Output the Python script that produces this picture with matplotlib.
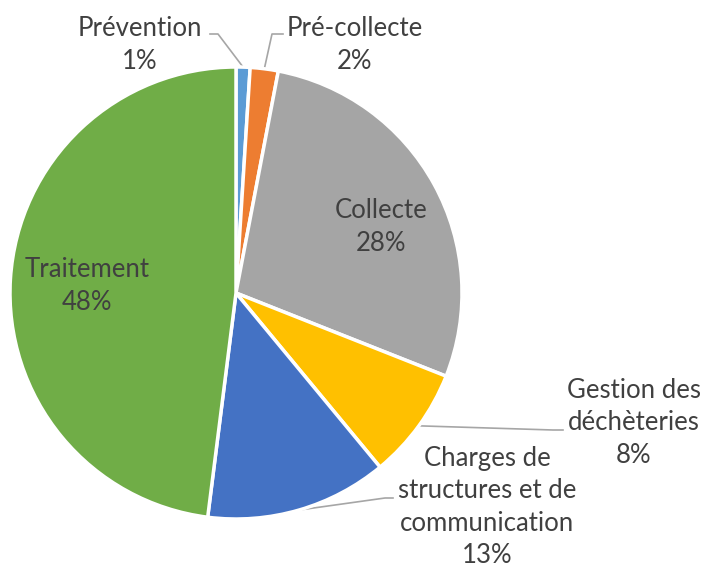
import numpy as np
import matplotlib
matplotlib.use("Agg")
import matplotlib.pyplot as plt

# données
categories = ["Prévention", "Pré-collecte", "Collecte", "Gestion des\ndéchèteries",
              "Charges de\nstructures et de\ncommunication", "Traitement"]
valeurs = [1, 2, 28, 8, 13, 48]
couleurs = ["#5B9BD5", "#ED7D31", "#A5A5A5", "#FFC000", "#4472C4", "#70AD47"]

W, H = 703, 568
CX, CY, R = 236, 293, 226


def px(x, y):
    # pixel -> coordonnées du repère du camembert
    return (x - CX) / R, (CY - y) / R


plt.rcParams['font.family'] = ['Lato', 'DejaVu Sans']

fig = plt.figure(figsize=(W / 100, H / 100), dpi=100)
ax = fig.add_axes([0, 0, 1, 1])

wedges, _ = ax.pie(valeurs, colors=couleurs, startangle=90, counterclock=False,
                   radius=1, center=(0, 0),
                   wedgeprops=dict(edgecolor='white', linewidth=2.5))

# pie() impose ses propres limites : on les remet après
ax.set_xlim(px(0, 0)[0], px(W, 0)[0])
ax.set_ylim(px(0, H)[1], px(0, 0)[1])
ax.set_aspect('equal')
ax.axis('off')

total = sum(valeurs)
pcts = [f"{round(v / total * 100)}%" for v in valeurs]

# positions des étiquettes (pixels) et coudes des traits de rappel
pos_labels = [(140, 45), (355, 45), (381, 227), (634, 423), (487, 507), (87, 286)]
coudes = [[(218, 34), (210, 34)],
          [(272, 34), (283, 34)],
          None,
          [(553, 430), (563, 430)],
          [(385, 498), (393, 498)],
          None]

for i, w in enumerate(wedges):
    lx, ly = px(*pos_labels[i])
    ax.text(lx, ly, categories[i] + "\n" + pcts[i], ha='center', va='center',
            fontsize=18.5, color='#404040', linespacing=1.38)
    if coudes[i] is not None:
        ang = np.deg2rad((w.theta1 + w.theta2) / 2)
        xs = [np.cos(ang)] + [px(*p)[0] for p in coudes[i]]
        ys = [np.sin(ang)] + [px(*p)[1] for p in coudes[i]]
        ax.plot(xs, ys, color='#A6A6A6', lw=1.2, zorder=0.5)

fig.savefig("out.png", dpi=100, facecolor='white')
